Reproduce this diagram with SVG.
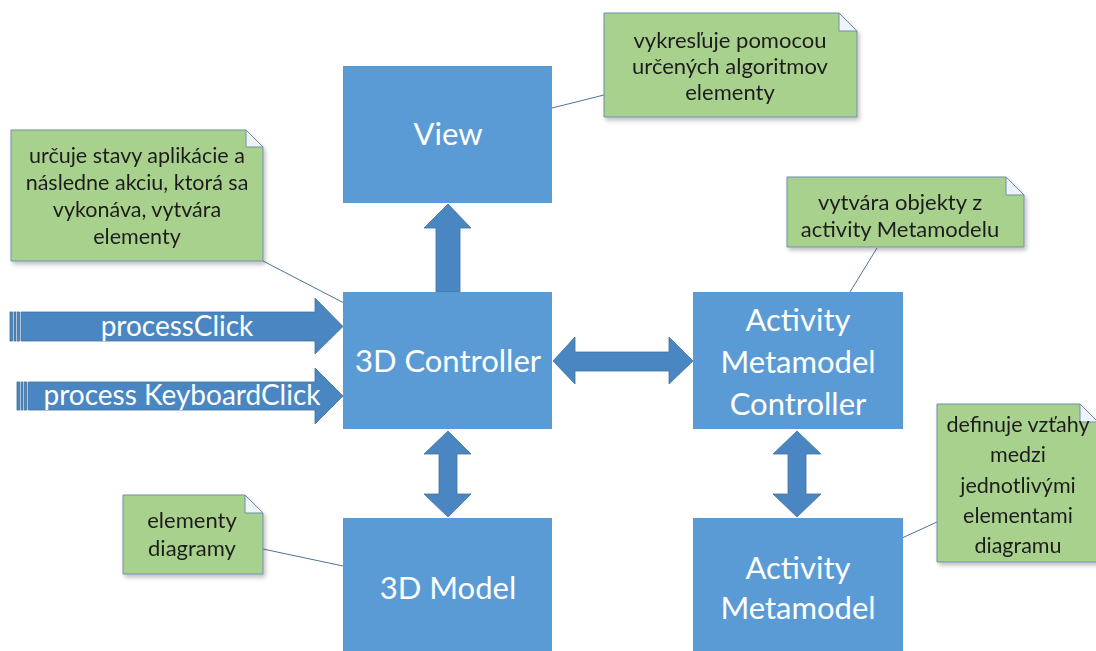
<svg xmlns="http://www.w3.org/2000/svg" width="1096" height="651" viewBox="0 0 1096 651">
  <defs>
    <filter id="shadow" x="-10%" y="-10%" width="130%" height="130%">
      <feGaussianBlur in="SourceAlpha" stdDeviation="2"/>
      <feOffset dx="2" dy="3" result="b"/>
      <feComponentTransfer><feFuncA type="linear" slope="0.25"/></feComponentTransfer>
      <feMerge><feMergeNode/><feMergeNode in="SourceGraphic"/></feMerge>
    </filter>
    <style>
      .box { fill: #5b9bd5; }
      .boxtext { fill: #ffffff; font-family: Lato, "Open Sans", sans-serif; font-size: 31px; text-anchor: middle; }
      .arrow { fill: #4a86c1; stroke: #41719c; stroke-width: 0.8; }
      .note { fill: #a9d18e; stroke: #6f8fae; stroke-width: 1; }
      .fold { fill: #eef3f8; stroke: #6f8fae; stroke-width: 1; }
      .notetext { fill: #1e1e1e; font-family: Lato, "Open Sans", sans-serif; font-size: 22px; text-anchor: middle; }
      .small { font-size: 21.5px; }
      .link { stroke: #4d7399; stroke-width: 1; fill: none; }
      .intext { fill: #ffffff; font-family: Lato, "Open Sans", sans-serif; font-size: 28px; text-anchor: middle; }
    </style>
  </defs>

  <rect width="1096" height="651" fill="#ffffff"/>

  <!-- connectors: note links and block arrows -->
  <g id="connectors">
    <line class="link" x1="552" y1="108" x2="604" y2="95"/>
    <line class="link" x1="263" y1="261" x2="344" y2="303"/>
    <line class="link" x1="877" y1="248" x2="850" y2="292"/>
    <line class="link" x1="902" y1="538" x2="937" y2="522"/>
    <line class="link" x1="263" y1="549" x2="343" y2="566"/>

    <!-- controller to view -->
    <path class="arrow" d="M436,292 L436,228 L424,228 L448,204 L471,228 L460,228 L460,292 Z"/>
    <!-- controller to activity controller -->
    <path class="arrow" d="M553,361 L575,337 L575,352 L669,352 L669,337 L693,361 L669,384 L669,371 L575,371 L575,384 Z"/>
    <!-- controller to model -->
    <path class="arrow" d="M448,431 L471,454 L457,454 L457,494 L471,494 L448,517 L424,494 L439,494 L439,454 L424,454 Z"/>
    <!-- activity controller to activity metamodel -->
    <path class="arrow" d="M797,431 L821,454 L806,454 L806,494 L821,494 L797,517 L773,494 L788,494 L788,454 L773,454 Z"/>

    <!-- processClick input -->
    <g id="in-processClick">
      <rect class="arrow" x="10" y="312" width="2.5" height="29"/>
      <rect class="arrow" x="14" y="312" width="2" height="29"/>
      <rect class="arrow" x="17.5" y="312" width="2" height="29"/>
      <path class="arrow" d="M21,312 L315,312 L315,298 L343,326.5 L315,354 L315,341 L21,341 Z"/>
      <text class="intext" x="177" y="336">processClick</text>
    </g>
    <!-- process KeyboardClick input -->
    <g id="in-keyboardClick">
      <rect class="arrow" x="17" y="382" width="2.5" height="28"/>
      <rect class="arrow" x="21" y="382" width="2" height="28"/>
      <rect class="arrow" x="24.5" y="382" width="2" height="28"/>
      <path class="arrow" d="M28,382 L315,382 L315,368 L343,396 L315,424 L315,410 L28,410 Z"/>
      <text class="intext" x="182" y="405">process KeyboardClick</text>
    </g>
  </g>

  <!-- main blocks -->
  <g id="view">
    <rect class="box" x="343" y="66" width="209" height="137"/>
    <text class="boxtext" x="448" y="145">View</text>
  </g>
  <g id="controller3d">
    <rect class="box" x="343" y="292" width="209" height="137"/>
    <text class="boxtext" x="448" y="372">3D Controller</text>
  </g>
  <g id="model3d">
    <rect class="box" x="343" y="518" width="209" height="140"/>
    <text class="boxtext" x="448" y="599">3D Model</text>
  </g>
  <g id="activityController">
    <rect class="box" x="693" y="292" width="210" height="137"/>
    <text class="boxtext" x="798" y="331">Activity</text>
    <text class="boxtext" x="798" y="373">Metamodel</text>
    <text class="boxtext" x="798" y="415">Controller</text>
  </g>
  <g id="activityMetamodel">
    <rect class="box" x="693" y="518" width="210" height="140"/>
    <text class="boxtext" x="798" y="579">Activity</text>
    <text class="boxtext" x="798" y="619">Metamodel</text>
  </g>

  <!-- notes -->
  <g id="note-view" filter="url(#shadow)">
    <path class="note" d="M604,13 L839,13 L857,31 L857,117 L604,117 Z"/>
    <path class="fold" d="M839,13 L857,31 L839,31 Z"/>
    <text class="notetext" x="730" y="48">vykresľuje pomocou</text>
    <text class="notetext" x="730" y="74">určených algoritmov</text>
    <text class="notetext" x="730" y="100">elementy</text>
  </g>
  <g id="note-controller" filter="url(#shadow)">
    <path class="note" d="M11,130 L246,130 L263,147 L263,261 L11,261 Z"/>
    <path class="fold" d="M246,130 L263,147 L246,147 Z"/>
    <text class="notetext small" x="137" y="163">určuje stavy aplikácie a</text>
    <text class="notetext small" x="137" y="190">následne akciu, ktorá sa</text>
    <text class="notetext small" x="137" y="217">vykonáva, vytvára</text>
    <text class="notetext small" x="137" y="244">elementy</text>
  </g>
  <g id="note-activity" filter="url(#shadow)">
    <path class="note" d="M787,177 L1006,177 L1024,195 L1024,247 L787,247 Z"/>
    <path class="fold" d="M1006,177 L1024,195 L1006,195 Z"/>
    <text class="notetext" x="900" y="210">vytvára objekty z</text>
    <text class="notetext" x="900" y="237">activity Metamodelu</text>
  </g>
  <g id="note-metamodel" filter="url(#shadow)">
    <path class="note" d="M937,404 L1080,404 L1098,422 L1098,562 L937,562 Z"/>
    <path class="fold" d="M1080,404 L1098,422 L1080,422 Z"/>
    <text class="notetext small" x="1018" y="432">definuje vzťahy</text>
    <text class="notetext small" x="1018" y="462">medzi</text>
    <text class="notetext small" x="1018" y="493">jednotlivými</text>
    <text class="notetext small" x="1018" y="523">elementami</text>
    <text class="notetext small" x="1018" y="553">diagramu</text>
  </g>
  <g id="note-model" filter="url(#shadow)">
    <path class="note" d="M123,495 L245,495 L263,513 L263,574 L123,574 Z"/>
    <path class="fold" d="M245,495 L263,513 L245,513 Z"/>
    <text class="notetext" x="192" y="528">elementy</text>
    <text class="notetext" x="192" y="556">diagramy</text>
  </g>
</svg>
